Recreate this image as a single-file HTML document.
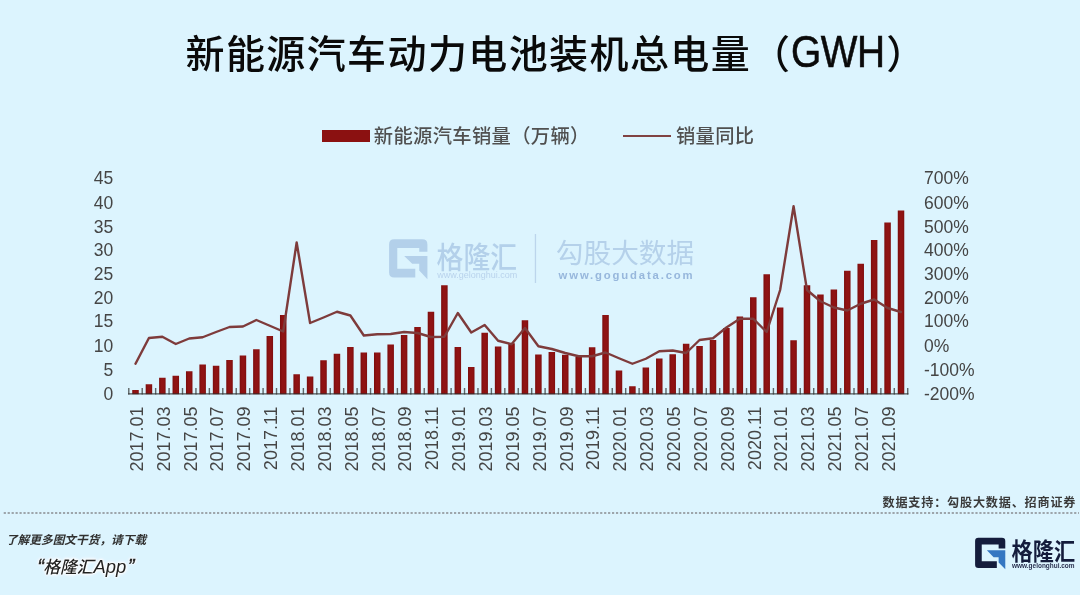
<!DOCTYPE html>
<html lang="zh-CN">
<head>
<meta charset="utf-8">
<title>新能源汽车动力电池装机总电量（GWH）</title>
<style>
html,body{margin:0;padding:0;}
body{width:1080px;height:595px;overflow:hidden;background:#dcf4fe;position:relative;font-family:"Liberation Sans","Noto Sans CJK SC",sans-serif;}
.abs{position:absolute;white-space:nowrap;}
#title{left:185.5px;top:24.5px;font-family:"Liberation Sans","Noto Sans CJK SC",sans-serif;font-weight:500;font-size:39px;line-height:60px;color:#0a0a0a;letter-spacing:1.4px;}
#title .en{display:inline-block;font-weight:400;font-size:44.5px;line-height:40px;vertical-align:baseline;position:relative;top:-0.8px;left:-0.5px;transform:scale(0.872,1);transform-origin:0 50%;margin-right:-12.6px;letter-spacing:-0.5px;-webkit-text-stroke:0.6px #0a0a0a;}
#legend{top:121px;left:0;width:1080px;height:30px;font-size:19.3px;letter-spacing:0.35px;font-weight:500;color:#505050;line-height:30px;}
#legend .sw1{position:absolute;left:321.5px;top:9px;width:48px;height:11.5px;background:#8b1111;}
#legend .t1{position:absolute;left:373.8px;top:1.3px;}
#legend .sw2{position:absolute;left:623.3px;top:13.8px;width:47.6px;height:2.5px;background:#804242;}
#legend .t2{position:absolute;left:675.9px;top:1.3px;}
#chart{left:0;top:0;}
#src{left:882.5px;top:493.4px;font-size:12.1px;letter-spacing:0.82px;font-weight:700;color:#3a3a3a;line-height:20px;}
#f1{left:5.9px;top:530.4px;font-size:11.7px;font-weight:700;font-style:italic;color:#303030;line-height:20px;}
#f2{left:37.6px;top:554.2px;font-size:16.8px;font-weight:500;font-style:italic;color:#222;line-height:26px;text-shadow:0 0 2px #fff,0 0 2px #fff,0 0 3px #fff,0 0 3px #fff,0 0 4px #fff,0 0 5px #fff;}
#f2 .q{font-size:19.5px;font-weight:400;line-height:0;margin-right:-0.9px;-webkit-text-stroke:0.4px #222;}
#f2 .q2{margin-left:1.6px;}
#f2 .en{font-size:18.4px;font-weight:400;}
</style>
</head>
<body>
<div id="title" class="abs">新能源汽车动力电池装机总电量（<span class="en">GWH</span>）</div>
<div id="legend" class="abs"><span class="sw1"></span><span class="t1">新能源汽车销量（万辆）</span><span class="sw2"></span><span class="t2">销量同比</span></div>
<svg id="chart" class="abs" width="1080" height="595" viewBox="0 0 1080 595">
<g id="wm">
<g transform="translate(389.1,239.3) scale(1.277)" fill="#b3d0ea">
<path d="M4,0H26Q30,0 30,4V9.8H23.6V6.8H6.4V23.1H20.5V30H4Q0,30 0,26V4Q0,0 4,0Z"/>
<path d="M11.8,13H30V31.3L23.6,24.4V19.2H18.1Z"/>
</g>
<text x="436.6" y="267.6" font-family="'Liberation Sans','Noto Sans CJK SC',sans-serif" font-weight="500" font-size="29.6" fill="#b3d0ea" textLength="80.5" lengthAdjust="spacingAndGlyphs">格隆汇</text>
<text x="437.2" y="278" font-family="'Liberation Sans',sans-serif" font-size="8.6" fill="#b9d3ec" textLength="80" lengthAdjust="spacingAndGlyphs">www.gelonghui.com</text>
<rect x="534.8" y="234" width="1.3" height="49" fill="#bcd5ec"/>
<text x="555.8" y="262.6" font-family="'Liberation Sans','Noto Sans CJK SC',sans-serif" font-weight="400" font-size="27.7" fill="#b5d1ea">勾股大数据</text>
<text x="558.6" y="278.6" font-family="'Liberation Sans',sans-serif" font-weight="700" font-size="11.3" fill="#97b7dc" textLength="134" lengthAdjust="spacing">www.gogudata.com</text>
</g>
<defs><linearGradient id="bg" x1="0" y1="0" x2="1" y2="0"><stop offset="0" stop-color="#7a0d0d"/><stop offset="0.35" stop-color="#8f1313"/><stop offset="0.7" stop-color="#8f1313"/><stop offset="1" stop-color="#7e0e0e"/></linearGradient></defs>
<path d="M128.78,388V394.4M142.22,388V394.4M155.65,388V394.4M169.07,388V394.4M182.50,388V394.4M195.94,388V394.4M209.36,388V394.4M222.79,388V394.4M236.22,388V394.4M249.66,388V394.4M263.09,388V394.4M276.52,388V394.4M289.94,388V394.4M303.38,388V394.4M316.81,388V394.4M330.24,388V394.4M343.67,388V394.4M357.10,388V394.4M370.53,388V394.4M383.95,388V394.4M397.39,388V394.4M410.81,388V394.4M424.25,388V394.4M437.68,388V394.4M451.11,388V394.4M464.54,388V394.4M477.97,388V394.4M491.40,388V394.4M504.82,388V394.4M518.25,388V394.4M531.68,388V394.4M545.11,388V394.4M558.54,388V394.4M571.98,388V394.4M585.40,388V394.4M598.83,388V394.4M612.26,388V394.4M625.69,388V394.4M639.12,388V394.4M652.55,388V394.4M665.99,388V394.4M679.41,388V394.4M692.84,388V394.4M706.27,388V394.4M719.70,388V394.4M733.13,388V394.4M746.56,388V394.4M760.00,388V394.4M773.42,388V394.4M786.85,388V394.4M800.28,388V394.4M813.71,388V394.4M827.14,388V394.4M840.57,388V394.4M854.00,388V394.4M867.43,388V394.4M880.86,388V394.4M894.29,388V394.4M907.72,388V394.4" stroke="#5f6668" stroke-width="1.4" fill="none"/>
<g fill="url(#bg)"><rect x="132.25" y="390.00" width="6.5" height="4.20"/><rect x="145.68" y="384.25" width="6.5" height="9.95"/><rect x="159.11" y="377.75" width="6.5" height="16.45"/><rect x="172.54" y="375.75" width="6.5" height="18.45"/><rect x="185.97" y="371.25" width="6.5" height="22.95"/><rect x="199.40" y="364.50" width="6.5" height="29.70"/><rect x="212.83" y="365.75" width="6.5" height="28.45"/><rect x="226.26" y="360.00" width="6.5" height="34.20"/><rect x="239.69" y="355.50" width="6.5" height="38.70"/><rect x="253.12" y="349.25" width="6.5" height="44.95"/><rect x="266.55" y="336.00" width="6.5" height="58.20"/><rect x="279.98" y="315.00" width="6.5" height="79.20"/><rect x="293.41" y="374.25" width="6.5" height="19.95"/><rect x="306.84" y="376.50" width="6.5" height="17.70"/><rect x="320.27" y="360.25" width="6.5" height="33.95"/><rect x="333.70" y="353.75" width="6.5" height="40.45"/><rect x="347.13" y="347.00" width="6.5" height="47.20"/><rect x="360.56" y="352.50" width="6.5" height="41.70"/><rect x="373.99" y="352.50" width="6.5" height="41.70"/><rect x="387.42" y="344.50" width="6.5" height="49.70"/><rect x="400.85" y="335.00" width="6.5" height="59.20"/><rect x="414.28" y="327.00" width="6.5" height="67.20"/><rect x="427.71" y="311.75" width="6.5" height="82.45"/><rect x="441.14" y="285.25" width="6.5" height="108.95"/><rect x="454.57" y="347.00" width="6.5" height="47.20"/><rect x="468.00" y="367.00" width="6.5" height="27.20"/><rect x="481.43" y="332.75" width="6.5" height="61.45"/><rect x="494.86" y="346.50" width="6.5" height="47.70"/><rect x="508.29" y="343.25" width="6.5" height="50.95"/><rect x="521.72" y="320.25" width="6.5" height="73.95"/><rect x="535.15" y="354.50" width="6.5" height="39.70"/><rect x="548.58" y="352.00" width="6.5" height="42.20"/><rect x="562.01" y="354.75" width="6.5" height="39.45"/><rect x="575.44" y="357.00" width="6.5" height="37.20"/><rect x="588.87" y="347.25" width="6.5" height="46.95"/><rect x="602.30" y="315.00" width="6.5" height="79.20"/><rect x="615.73" y="370.50" width="6.5" height="23.70"/><rect x="629.16" y="386.25" width="6.5" height="7.95"/><rect x="642.59" y="367.50" width="6.5" height="26.70"/><rect x="656.02" y="358.50" width="6.5" height="35.70"/><rect x="669.45" y="354.25" width="6.5" height="39.95"/><rect x="682.88" y="343.75" width="6.5" height="50.45"/><rect x="696.31" y="346.00" width="6.5" height="48.20"/><rect x="709.74" y="340.00" width="6.5" height="54.20"/><rect x="723.17" y="328.00" width="6.5" height="66.20"/><rect x="736.60" y="316.50" width="6.5" height="77.70"/><rect x="750.03" y="297.25" width="6.5" height="96.95"/><rect x="763.46" y="274.25" width="6.5" height="119.95"/><rect x="776.89" y="307.50" width="6.5" height="86.70"/><rect x="790.32" y="340.25" width="6.5" height="53.95"/><rect x="803.75" y="285.25" width="6.5" height="108.95"/><rect x="817.18" y="294.50" width="6.5" height="99.70"/><rect x="830.61" y="289.50" width="6.5" height="104.70"/><rect x="844.04" y="270.75" width="6.5" height="123.45"/><rect x="857.47" y="263.75" width="6.5" height="130.45"/><rect x="870.90" y="240.00" width="6.5" height="154.20"/><rect x="884.33" y="222.50" width="6.5" height="171.70"/><rect x="897.76" y="210.50" width="6.5" height="183.70"/></g>
<path d="M128.09,393.9H908.43" stroke="#2e2e2e" stroke-opacity="0.8" stroke-width="1.2" fill="none"/>
<polyline points="135.50,363.75 148.93,338.00 162.36,336.75 175.79,344.00 189.22,338.50 202.65,337.25 216.08,332.00 229.51,327.00 242.94,326.50 256.37,320.00 269.80,325.75 283.23,331.50 296.66,242.50 310.09,323.00 323.52,317.50 336.95,311.75 350.38,315.50 363.81,335.50 377.24,334.25 390.67,334.00 404.10,332.00 417.53,333.00 430.96,337.00 444.39,336.75 457.82,313.00 471.25,332.50 484.68,325.00 498.11,340.75 511.54,344.25 524.97,328.00 538.40,346.25 551.83,349.00 565.26,353.00 578.69,356.25 592.12,356.25 605.55,352.50 618.98,358.25 632.41,363.75 645.84,358.75 659.27,351.25 672.70,350.50 686.13,353.00 699.56,340.00 712.99,338.25 726.42,327.50 739.85,318.75 753.28,318.75 766.71,332.00 780.14,290.00 793.57,206.25 807.00,290.00 820.43,301.25 833.86,307.50 847.29,310.50 860.72,303.75 874.15,299.50 887.58,308.00 901.01,312.00" fill="none" stroke="#7e3b3b" stroke-width="2.4" stroke-linejoin="round" stroke-linecap="round"/>
<g font-family="'Liberation Sans', sans-serif" font-size="17.5" fill="#454545"><text x="113.3" y="400.4" text-anchor="end">0</text><text x="113.3" y="375.5" text-anchor="end">5</text><text x="113.3" y="352.2" text-anchor="end">10</text><text x="113.3" y="327.1" text-anchor="end">15</text><text x="113.3" y="303.9" text-anchor="end">20</text><text x="113.3" y="280.4" text-anchor="end">25</text><text x="113.3" y="255.6" text-anchor="end">30</text><text x="113.3" y="232.5" text-anchor="end">35</text><text x="113.3" y="209.2" text-anchor="end">40</text><text x="113.3" y="184.0" text-anchor="end">45</text><text x="924" y="400.4">-200%</text><text x="924" y="375.5">-100%</text><text x="924" y="352.2">0%</text><text x="924" y="327.1">100%</text><text x="924" y="303.9">200%</text><text x="924" y="280.4">300%</text><text x="924" y="255.6">400%</text><text x="924" y="232.5">500%</text><text x="924" y="209.2">600%</text><text x="924" y="184.0">700%</text><text transform="translate(142.80,406.4) rotate(-90)" text-anchor="end" font-size="18">2017.01</text><text transform="translate(169.66,406.4) rotate(-90)" text-anchor="end" font-size="18">2017.03</text><text transform="translate(196.52,406.4) rotate(-90)" text-anchor="end" font-size="18">2017.05</text><text transform="translate(223.38,406.4) rotate(-90)" text-anchor="end" font-size="18">2017.07</text><text transform="translate(250.24,406.4) rotate(-90)" text-anchor="end" font-size="18">2017.09</text><text transform="translate(277.10,406.4) rotate(-90)" text-anchor="end" font-size="18">2017.11</text><text transform="translate(303.96,406.4) rotate(-90)" text-anchor="end" font-size="18">2018.01</text><text transform="translate(330.82,406.4) rotate(-90)" text-anchor="end" font-size="18">2018.03</text><text transform="translate(357.68,406.4) rotate(-90)" text-anchor="end" font-size="18">2018.05</text><text transform="translate(384.54,406.4) rotate(-90)" text-anchor="end" font-size="18">2018.07</text><text transform="translate(411.40,406.4) rotate(-90)" text-anchor="end" font-size="18">2018.09</text><text transform="translate(438.26,406.4) rotate(-90)" text-anchor="end" font-size="18">2018.11</text><text transform="translate(465.12,406.4) rotate(-90)" text-anchor="end" font-size="18">2019.01</text><text transform="translate(491.98,406.4) rotate(-90)" text-anchor="end" font-size="18">2019.03</text><text transform="translate(518.84,406.4) rotate(-90)" text-anchor="end" font-size="18">2019.05</text><text transform="translate(545.70,406.4) rotate(-90)" text-anchor="end" font-size="18">2019.07</text><text transform="translate(572.56,406.4) rotate(-90)" text-anchor="end" font-size="18">2019.09</text><text transform="translate(599.42,406.4) rotate(-90)" text-anchor="end" font-size="18">2019.11</text><text transform="translate(626.28,406.4) rotate(-90)" text-anchor="end" font-size="18">2020.01</text><text transform="translate(653.14,406.4) rotate(-90)" text-anchor="end" font-size="18">2020.03</text><text transform="translate(680.00,406.4) rotate(-90)" text-anchor="end" font-size="18">2020.05</text><text transform="translate(706.86,406.4) rotate(-90)" text-anchor="end" font-size="18">2020.07</text><text transform="translate(733.72,406.4) rotate(-90)" text-anchor="end" font-size="18">2020.09</text><text transform="translate(760.58,406.4) rotate(-90)" text-anchor="end" font-size="18">2020.11</text><text transform="translate(787.44,406.4) rotate(-90)" text-anchor="end" font-size="18">2021.01</text><text transform="translate(814.30,406.4) rotate(-90)" text-anchor="end" font-size="18">2021.03</text><text transform="translate(841.16,406.4) rotate(-90)" text-anchor="end" font-size="18">2021.05</text><text transform="translate(868.02,406.4) rotate(-90)" text-anchor="end" font-size="18">2021.07</text><text transform="translate(894.88,406.4) rotate(-90)" text-anchor="end" font-size="18">2021.09</text></g>
<line x1="3.7" y1="513" x2="1079" y2="513" stroke="#9da5ab" stroke-width="1.9" stroke-dasharray="2.2 1.75"/>
<g id="logo">
<g transform="translate(975.1,537.8) scale(1.006)">
<path fill="#141c3c" d="M3.3,0H26.7Q30,0 30,3.3V10.6H23.4V6.7H6.6V23.2H21.6V30H3.3Q0,30 0,26.7V3.3Q0,0 3.3,0Z"/>
<path fill="#3577c2" d="M11.7,12.5H30V31.2L23.4,24.6V19.3H18.4Z"/>
</g>
<text x="1011.6" y="560" font-family="'Liberation Sans','Noto Sans CJK SC',sans-serif" font-weight="700" font-size="23.6" fill="#141c3c" textLength="63.5" lengthAdjust="spacingAndGlyphs">格隆汇</text>
<text x="1012" y="568.3" font-family="'Liberation Sans',sans-serif" font-weight="700" font-size="6.5" fill="#2a3150" textLength="62.5" lengthAdjust="spacingAndGlyphs">www.gelonghui.com</text>
</g>
</svg>
<div id="src" class="abs">数据支持：勾股大数据、招商证券</div>
<div id="f1" class="abs">了解更多图文干货，请下载</div>
<div id="f2" class="abs"><span class="q">“</span>格隆汇<span class="en">App</span><span class="q q2">”</span></div>
</body>
</html>
